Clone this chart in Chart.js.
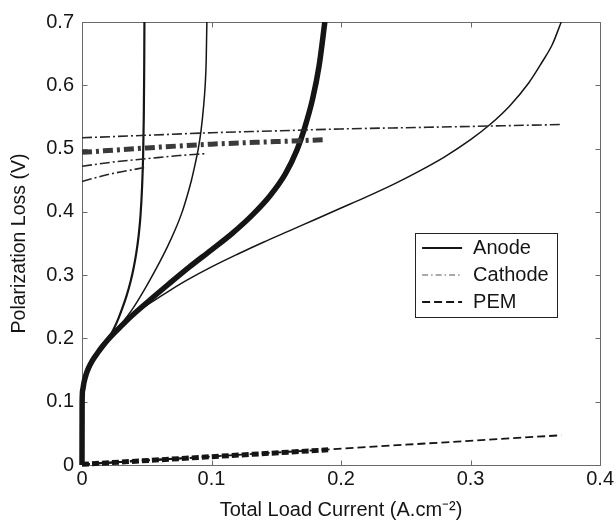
<!DOCTYPE html>
<html>
<head>
<meta charset="utf-8">
<title>Polarization Loss vs Total Load Current</title>
<script src="https://cdn.jsdelivr.net/npm/chart.js@4.4.1/dist/chart.umd.min.js"></script>
<style>
  html, body { margin: 0; padding: 0; background: #ffffff; }
  #wrap { width: 616px; height: 524px; }
</style>
</head>
<body>
<div id="wrap"><canvas id="chart" width="616" height="524"></canvas></div>
<script>
// Axis tick labels
const xTickLabels = ['0', '0.1', '0.2', '0.3', '0.4'];
const yTickLabels = ['0', '0.1', '0.2', '0.3', '0.4', '0.5', '0.6', '0.7'];
const legendLabels = ['Anode', 'Cathode', 'PEM'];

// Anode polarization loss, four cases (limiting current ~0.048, ~0.096, ~0.19, >0.37 A/cm2)
const anodeCurrent1 = [0, 0.0001, 0.0005, 0.0015, 0.003, 0.005, 0.008, 0.012, 0.016, 0.02, 0.024, 0.028, 0.031, 0.0345, 0.0375, 0.04, 0.042, 0.0437, 0.0452, 0.0464, 0.0472, 0.0477, 0.048, 0.0482];
const anodeLoss1    = [0, 0.1, 0.118, 0.13, 0.142, 0.153, 0.165, 0.177, 0.188, 0.199, 0.213, 0.231, 0.247, 0.268, 0.29, 0.313, 0.336, 0.362, 0.395, 0.44, 0.49, 0.55, 0.62, 0.7];

const anodeCurrent2 = [0, 0.0001, 0.0005, 0.0015, 0.003, 0.005, 0.008, 0.012, 0.016, 0.02, 0.025, 0.03, 0.0385, 0.049, 0.058, 0.066, 0.072, 0.077, 0.081, 0.0845, 0.0873, 0.0898, 0.092, 0.0938, 0.0951, 0.0959, 0.0964];
const anodeLoss2    = [0, 0.1, 0.118, 0.13, 0.142, 0.153, 0.165, 0.177, 0.188, 0.198, 0.21, 0.222, 0.245, 0.28, 0.313, 0.345, 0.372, 0.398, 0.424, 0.45, 0.475, 0.5, 0.53, 0.565, 0.6, 0.64, 0.7];

const anodeCurrent3 = [0, 0.0001, 0.0005, 0.0015, 0.003, 0.005, 0.008, 0.012, 0.016, 0.02, 0.025, 0.031, 0.037, 0.052, 0.067, 0.083, 0.1, 0.116, 0.132, 0.145, 0.157, 0.166, 0.1715, 0.178, 0.183, 0.1875];
const anodeLoss3    = [0, 0.1, 0.118, 0.13, 0.142, 0.153, 0.165, 0.177, 0.188, 0.198, 0.209, 0.221, 0.233, 0.26, 0.286, 0.313, 0.34, 0.366, 0.396, 0.425, 0.46, 0.498, 0.53, 0.578, 0.63, 0.7];

const anodeCurrent4 = [0, 0.0001, 0.0005, 0.0015, 0.003, 0.005, 0.008, 0.012, 0.016, 0.02, 0.025, 0.031, 0.037, 0.045, 0.055, 0.068, 0.081, 0.1, 0.12, 0.14, 0.16, 0.18, 0.2, 0.22, 0.24, 0.26, 0.28, 0.3, 0.315, 0.33, 0.345, 0.355, 0.363, 0.37];
const anodeLoss4    = [0, 0.1, 0.118, 0.13, 0.142, 0.153, 0.165, 0.177, 0.188, 0.198, 0.209, 0.221, 0.232, 0.245, 0.259, 0.276, 0.292, 0.313, 0.333, 0.352, 0.37, 0.388, 0.406, 0.424, 0.443, 0.464, 0.487, 0.514, 0.538, 0.567, 0.604, 0.636, 0.664, 0.7];

// Cathode polarization loss, same four cases
const cathodeCurrent1 = [0, 0.05, 0.1, 0.15, 0.2, 0.25, 0.3, 0.37];
const cathodeLoss1    = [0.517, 0.521, 0.525, 0.528, 0.531, 0.533, 0.535, 0.538];

const cathodeCurrent2 = [0, 0.05, 0.1, 0.15, 0.188];
const cathodeLoss2    = [0.494, 0.501, 0.507, 0.511, 0.514];

const cathodeCurrent3 = [0, 0.025, 0.05, 0.075, 0.096];
const cathodeLoss3    = [0.472, 0.479, 0.484, 0.489, 0.492];

const cathodeCurrent4 = [0, 0.02, 0.035, 0.048];
const cathodeLoss4    = [0.448, 0.459, 0.465, 0.47];

// Membrane (PEM) ohmic loss, same four cases
const pemCurrent1 = [0, 0.048];
const pemLoss1    = [0.001, 0.007];
const pemCurrent2 = [0, 0.096];
const pemLoss2    = [0.001, 0.013];
const pemCurrent3 = [0, 0.19];
const pemLoss3    = [0.001, 0.024];
const pemCurrent4 = [0, 0.37];
const pemLoss4    = [0.001, 0.047];

const FONT = '"Liberation Sans", Arial, Helvetica, sans-serif';
const INK = '#151515';
const FRAME = '#6a6a6a';

function pts(xs, ys) {
  return xs.map((x, i) => ({ x: x, y: ys[i] }));
}

function series(label, xs, ys, width, dash, color) {
  return {
    label: label,
    data: pts(xs, ys),
    borderColor: color || INK,
    borderWidth: width,
    borderDash: dash || [],
    borderCapStyle: 'butt',
    borderJoinStyle: 'round',
    pointRadius: 0,
    fill: false,
    cubicInterpolationMode: 'monotone',
    clip: { left: 6, bottom: 6, top: 0, right: 0 }
  };
}

const cathodeThinDash = [10, 3, 2, 3];
const cathodeThickDash = [10, 4, 3, 4];
const pemThinDash = [8, 4];
const pemThickDash = [7, 3];

const datasets = [
  series('Cathode', cathodeCurrent1, cathodeLoss1, 1.6, cathodeThinDash, '#262626'),
  series('Cathode', cathodeCurrent2, cathodeLoss2, 5, cathodeThickDash, '#3a3a3a'),
  series('Cathode', cathodeCurrent3, cathodeLoss3, 1.6, cathodeThinDash, '#262626'),
  series('Cathode', cathodeCurrent4, cathodeLoss4, 1.6, cathodeThinDash, '#262626'),
  series('PEM', pemCurrent4, pemLoss4, 1.8, pemThinDash),
  series('PEM', pemCurrent2, pemLoss2, 1.8, pemThinDash),
  series('PEM', pemCurrent1, pemLoss1, 1.8, pemThinDash),
  series('PEM', pemCurrent3, pemLoss3, 5, pemThickDash),
  series('Anode', anodeCurrent3, anodeLoss3, 5.5),
  series('Anode', anodeCurrent4, anodeLoss4, 1.5),
  series('Anode', anodeCurrent2, anodeLoss2, 1.5),
  series('Anode', anodeCurrent1, anodeLoss1, 2.2)
];

// Boxed axes with inward ticks on all four sides
const framePlugin = {
  id: 'frame',
  beforeDatasetsDraw(chart) {
    const { ctx, chartArea: a, scales } = chart;
    const L = Math.round(a.left) + 0.5, R = Math.round(a.right) + 0.5;
    const T = Math.round(a.top) + 0.5, B = Math.round(a.bottom) + 0.5;
    const len = 5;
    ctx.save();
    ctx.strokeStyle = FRAME;
    ctx.lineWidth = 1;
    ctx.strokeRect(L, T, R - L, B - T);
    ctx.beginPath();
    scales.x.ticks.forEach(t => {
      const px = Math.round(scales.x.getPixelForValue(t.value)) + 0.5;
      ctx.moveTo(px, B); ctx.lineTo(px, B - len);
      ctx.moveTo(px, T); ctx.lineTo(px, T + len);
    });
    scales.y.ticks.forEach(t => {
      const py = Math.round(scales.y.getPixelForValue(t.value)) + 0.5;
      ctx.moveTo(L, py); ctx.lineTo(L + len, py);
      ctx.moveTo(R, py); ctx.lineTo(R - len, py);
    });
    ctx.stroke();
    ctx.restore();
  }
};

// Boxed legend inside the plot area
const legendPlugin = {
  id: 'boxLegend',
  afterDraw(chart) {
    const { ctx, chartArea: a } = chart;
    const boxL = a.right - 185, boxT = a.top + 211, boxW = 142, boxH = 84;
    const styles = [
      { dash: [], width: 1.8, color: INK },
      { dash: [6, 3, 1.5, 3], width: 1.2, color: '#555' },
      { dash: [8, 4], width: 1.8, color: INK }
    ];
    ctx.save();
    ctx.fillStyle = '#ffffff';
    ctx.fillRect(boxL, boxT, boxW, boxH);
    ctx.strokeStyle = '#222';
    ctx.lineWidth = 1;
    ctx.strokeRect(Math.round(boxL) + 0.5, Math.round(boxT) + 0.5, boxW, boxH);
    ctx.font = '20px ' + FONT;
    ctx.textBaseline = 'middle';
    ctx.textAlign = 'left';
    legendLabels.forEach((label, i) => {
      const y = boxT + 15 + i * 27;
      const s = styles[i];
      ctx.beginPath();
      ctx.setLineDash(s.dash);
      ctx.lineWidth = s.width;
      ctx.strokeStyle = s.color;
      ctx.moveTo(boxL + 7, y);
      ctx.lineTo(boxL + 47, y);
      ctx.stroke();
      ctx.setLineDash([]);
      ctx.fillStyle = INK;
      ctx.fillText(label, boxL + 58, y);
    });
    ctx.restore();
  }
};

new Chart(document.getElementById('chart'), {
  type: 'line',
  data: { datasets: datasets },
  plugins: [framePlugin, legendPlugin],
  options: {
    responsive: false,
    devicePixelRatio: 1,
    animation: false,
    layout: { padding: { top: 22, right: 14, left: 0, bottom: 0 } },
    plugins: { legend: { display: false }, tooltip: { enabled: false } },
    scales: {
      x: {
        type: 'linear',
        min: 0, max: 0.4,
        afterFit(s) { s.height = 59; },
        grid: { display: false, drawTicks: false },
        border: { display: false },
        ticks: {
          stepSize: 0.1,
          padding: 2,
          color: INK,
          font: { family: FONT, size: 20 },
          maxRotation: 0,
          callback: (v, i) => xTickLabels[i]
        },
        title: {
          display: true,
          text: 'Total Load Current (A.cm\u207B\u00B2)',
          color: INK,
          font: { family: FONT, size: 20 },
          padding: { top: 0, bottom: 2 }
        }
      },
      y: {
        type: 'linear',
        min: 0, max: 0.7,
        afterFit(s) { s.width = 82; },
        grid: { display: false, drawTicks: false },
        border: { display: false },
        ticks: {
          stepSize: 0.1,
          padding: 8,
          color: INK,
          font: { family: FONT, size: 20 },
          callback: (v, i) => yTickLabels[i]
        },
        title: {
          display: true,
          text: 'Polarization Loss (V)',
          color: INK,
          font: { family: FONT, size: 19.5 },
          padding: { top: 8, bottom: 0 }
        }
      }
    }
  }
});
</script>
</body>
</html>
